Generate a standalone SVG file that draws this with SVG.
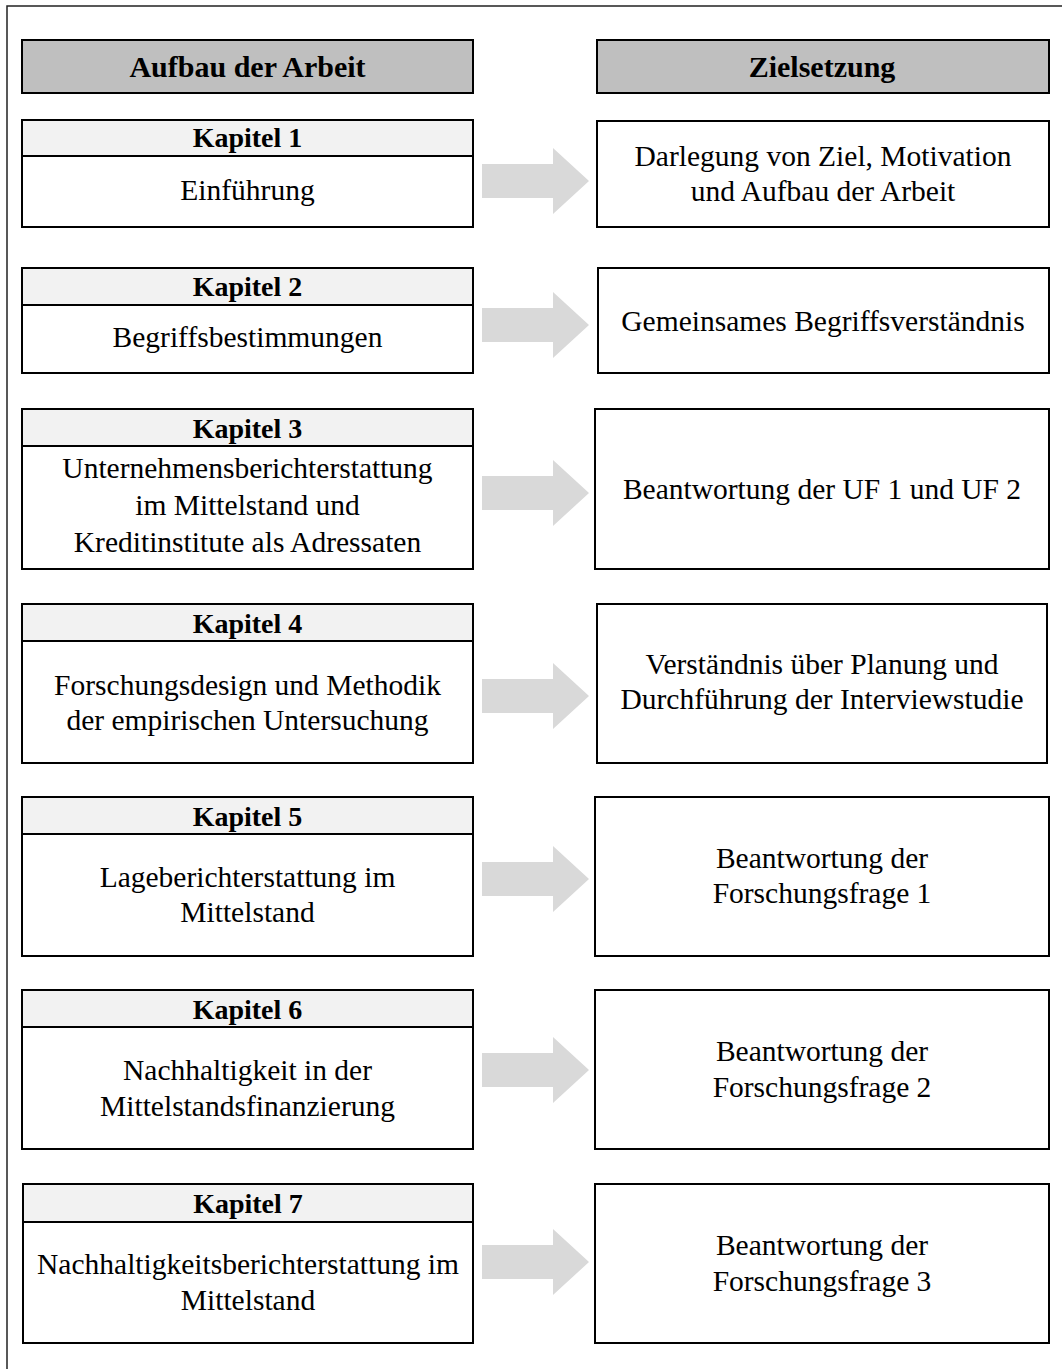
<svg xmlns="http://www.w3.org/2000/svg" width="1062" height="1369" viewBox="0 0 1062 1369">
<style>
.box{fill:#fff;stroke:#000;stroke-width:2}
.hdr{fill:#bfbfbf;stroke:#000;stroke-width:2}
.band{fill:#f2f2f2;stroke:#000;stroke-width:2}
.arr{fill:#d9d9d9}
text{font-family:"Liberation Serif","Times New Roman",serif;fill:#000;text-anchor:middle}
.h{font-weight:bold;font-size:30px}
.b{font-weight:bold;font-size:28px}
.t{font-size:29.5px}
</style>
<rect x="7" y="6" width="1080" height="1400" fill="#fff" stroke="#222" stroke-width="1.5"/>
<g id="hdr-left"><rect class="hdr" x="22" y="40" width="451" height="53"/><text class="h" x="247.5" y="77">Aufbau der Arbeit</text></g>
<g id="hdr-right"><rect class="hdr" x="597" y="40" width="452" height="53"/><text class="h" x="822" y="77">Zielsetzung</text></g>

<g id="k1"><rect class="box" x="22" y="120" width="451" height="107"/><rect class="band" x="22" y="120" width="451" height="36"/><text class="b" x="247.5" y="147">Kapitel 1</text><text class="t" x="247.5" y="200">Einführung</text></g>
<g id="z1"><rect class="box" x="597" y="121" width="452" height="106"/><text class="t" x="823" y="166">Darlegung von Ziel, Motivation</text><text class="t" x="823" y="201">und Aufbau der Arbeit</text></g>

<g id="k2"><rect class="box" x="22" y="268" width="451" height="105"/><rect class="band" x="22" y="268" width="451" height="37"/><text class="b" x="247.5" y="296">Kapitel 2</text><text class="t" x="247.5" y="347">Begriffsbestimmungen</text></g>
<g id="z2"><rect class="box" x="598" y="268" width="451" height="105"/><text class="t" x="823" y="331">Gemeinsames Begriffsverständnis</text></g>

<g id="k3"><rect class="box" x="22" y="409" width="451" height="160"/><rect class="band" x="22" y="409" width="451" height="37"/><text class="b" x="247.5" y="438">Kapitel 3</text><text class="t" x="247.5" y="478">Unternehmensberichterstattung</text><text class="t" x="247.5" y="515">im Mittelstand und</text><text class="t" x="247.5" y="552">Kreditinstitute als Adressaten</text></g>
<g id="z3"><rect class="box" x="595" y="409" width="454" height="160"/><text class="t" x="822" y="499">Beantwortung der UF 1 und UF 2</text></g>

<g id="k4"><rect class="box" x="22" y="604" width="451" height="159"/><rect class="band" x="22" y="604" width="451" height="37"/><text class="b" x="247.5" y="633">Kapitel 4</text><text class="t" x="247.5" y="695">Forschungsdesign und Methodik</text><text class="t" x="247.5" y="730">der empirischen Untersuchung</text></g>
<g id="z4"><rect class="box" x="597" y="604" width="450" height="159"/><text class="t" x="822" y="674">Verständnis über Planung und</text><text class="t" x="822" y="709">Durchführung der Interviewstudie</text></g>

<g id="k5"><rect class="box" x="22" y="797" width="451" height="159"/><rect class="band" x="22" y="797" width="451" height="37"/><text class="b" x="247.5" y="826">Kapitel 5</text><text class="t" x="247.5" y="887">Lageberichterstattung im</text><text class="t" x="247.5" y="922">Mittelstand</text></g>
<g id="z5"><rect class="box" x="595" y="797" width="454" height="159"/><text class="t" x="822" y="868">Beantwortung der</text><text class="t" x="822" y="903">Forschungsfrage 1</text></g>

<g id="k6"><rect class="box" x="22" y="990" width="451" height="159"/><rect class="band" x="22" y="990" width="451" height="37"/><text class="b" x="247.5" y="1019">Kapitel 6</text><text class="t" x="247.5" y="1080">Nachhaltigkeit in der</text><text class="t" x="247.5" y="1116">Mittelstandsfinanzierung</text></g>
<g id="z6"><rect class="box" x="595" y="990" width="454" height="159"/><text class="t" x="822" y="1061">Beantwortung der</text><text class="t" x="822" y="1097">Forschungsfrage 2</text></g>

<g id="k7"><rect class="box" x="23" y="1184" width="450" height="159"/><rect class="band" x="23" y="1184" width="450" height="38"/><text class="b" x="248" y="1213">Kapitel 7</text><text class="t" x="248" y="1274">Nachhaltigkeitsberichterstattung im</text><text class="t" x="248" y="1310">Mittelstand</text></g>
<g id="z7"><rect class="box" x="595" y="1184" width="454" height="159"/><text class="t" x="822" y="1255">Beantwortung der</text><text class="t" x="822" y="1291">Forschungsfrage 3</text></g>

<defs><path id="arrow" class="arr" d="M0,-17 H71 V-33 L107,0 L71,33 V17 H0 Z"/></defs>
<g id="connectors">
<use href="#arrow" x="482" y="181"/>
<use href="#arrow" x="482" y="325"/>
<use href="#arrow" x="482" y="493"/>
<use href="#arrow" x="482" y="696"/>
<use href="#arrow" x="482" y="879"/>
<use href="#arrow" x="482" y="1070"/>
<use href="#arrow" x="482" y="1262"/>
</g>
</svg>
